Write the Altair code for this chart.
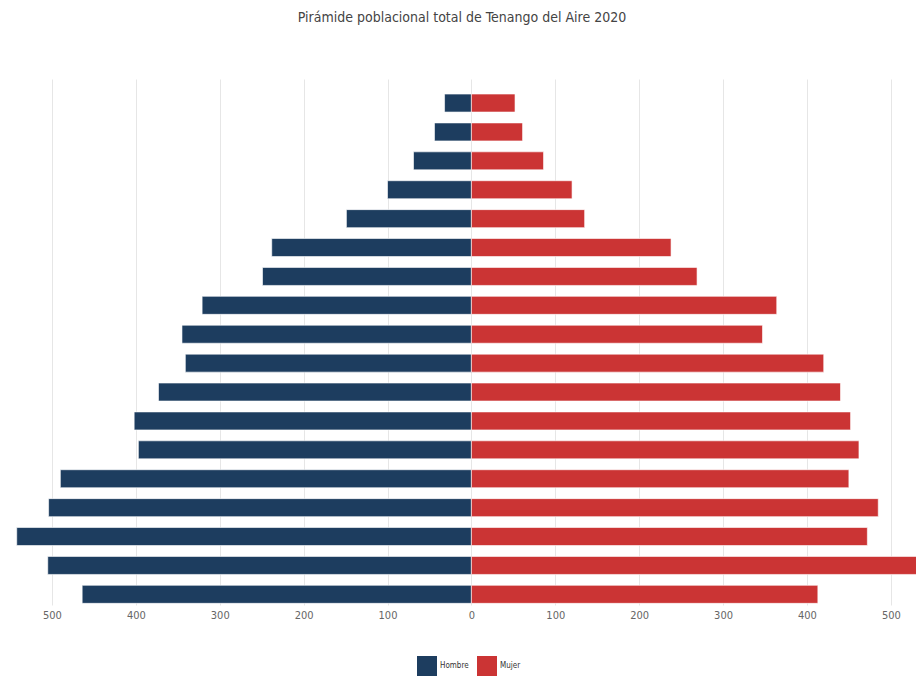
import altair as alt
import pandas as pd

# Age groups from oldest (top) to youngest (bottom)
grupos = ["85+", "80-84", "75-79", "70-74", "65-69", "60-64", "55-59", "50-54",
          "45-49", "40-44", "35-39", "30-34", "25-29", "20-24", "15-19",
          "10-14", "5-9", "0-4"]
hombres = [32, 44, 69, 100, 149, 238, 249, 321, 345, 341, 373, 402, 397, 490,
           504, 542, 505, 464]
mujeres = [52, 61, 86, 120, 135, 238, 269, 364, 347, 420, 440, 452, 462, 450,
           485, 472, 534, 413]
ticks = [-500, -400, -300, -200, -100, 0, 100, 200, 300, 400, 500]

rows = []
for g, h, m in zip(grupos, hombres, mujeres):
    rows.append({"edad": g, "sexo": "Hombre", "valor": -h})
    rows.append({"edad": g, "sexo": "Mujer", "valor": m})
df = pd.DataFrame(rows)

FONT = "DejaVu Sans Condensed, sans-serif"

chart = alt.Chart(df).mark_bar(
    stroke="white", strokeWidth=1, strokeOpacity=0.6, clip=True
).encode(
    y=alt.Y("edad:N", sort=grupos, axis=None,
            scale=alt.Scale(paddingInner=0.377, paddingOuter=0.289, align=0.9)),
    x=alt.X("valor:Q",
            scale=alt.Scale(domain=[-552.4, 530], nice=False, zero=True),
            axis=alt.Axis(values=ticks, labelExpr="abs(datum.value)", title=None,
                          domain=False, ticks=False, grid=True,
                          gridColor="#e6e6e6", gridWidth=1,
                          labelFont=FONT, labelFontSize=11, labelColor="#666666",
                          labelPadding=4)),
    color=alt.Color("sexo:N",
                    scale=alt.Scale(domain=["Hombre", "Mujer"],
                                    range=["#1d3d5f", "#cb3434"]),
                    legend=alt.Legend(title=None, orient="none", direction="horizontal",
                                      legendX=409, legendY=577,
                                      symbolType="square", symbolSize=400,
                                      symbolStrokeWidth=0, symbolOpacity=1,
                                      labelFont=FONT, labelFontSize=8,
                                      labelColor="#333333", columnPadding=8,
                                      labelOffset=3)),
).properties(
    width=908,
    height=526,
    title=alt.TitleParams("Pirámide poblacional total de Tenango del Aire 2020",
                          font=FONT, fontSize=14, fontWeight="normal",
                          color="#444444", anchor="middle", offset=54),
    padding={"left": 0, "right": 0, "top": 3, "bottom": 0},
).configure_view(stroke=None)

chart.save("out.html", embed_options={"renderer": "svg", "actions": False})
